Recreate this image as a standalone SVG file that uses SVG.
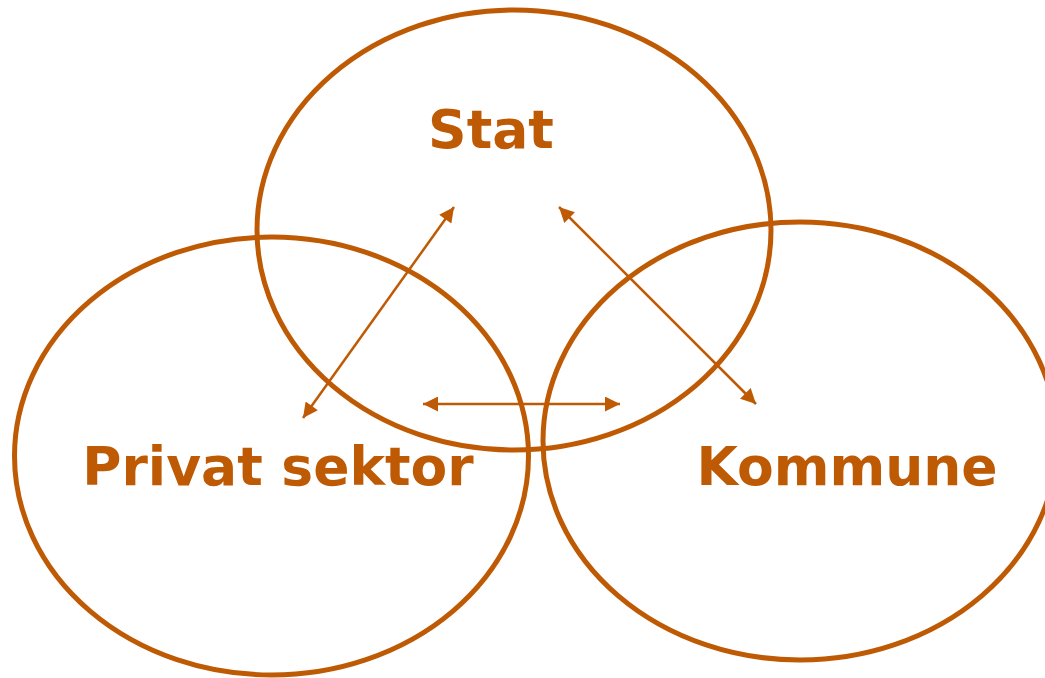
<svg xmlns="http://www.w3.org/2000/svg" width="1045" height="678" viewBox="0 0 1045 678">
<defs>
<style>
.circ{fill:none;stroke:#BF5A04;stroke-width:5}
.lbl{font-family:"DejaVu Sans",Verdana,sans-serif;font-weight:bold;font-size:53.5px;fill:#BF5A04;text-anchor:middle}
.con{stroke:#BF5A04;stroke-width:2.5;fill:none;marker-start:url(#ah);marker-end:url(#ah)}
</style>
<marker id="ah" viewBox="0 0 10 10" refX="10" refY="5" markerWidth="7" markerHeight="6" markerUnits="strokeWidth" orient="auto-start-reverse">
<path d="M0,0 L10,5 L0,10 Z" fill="#BF5A04"/>
</marker>
</defs>
<rect width="1045" height="678" fill="#ffffff"/>
<g id="stat">
<ellipse class="circ" cx="514" cy="230" rx="257" ry="220"/>
<text class="lbl" x="491" y="148">Stat</text>
</g>
<g id="privat">
<ellipse class="circ" cx="271.5" cy="456" rx="257" ry="219"/>
<text class="lbl" x="278" y="485">Privat sektor</text>
</g>
<g id="kommune">
<ellipse class="circ" cx="800" cy="441" rx="257" ry="219"/>
<text class="lbl" x="847" y="485">Kommune</text>
</g>
<g id="connectors">
<line class="con" x1="303" y1="418" x2="454" y2="207"/>
<line class="con" x1="559" y1="207" x2="756" y2="404"/>
<line class="con" x1="423" y1="404" x2="620" y2="404"/>
</g>
</svg>
